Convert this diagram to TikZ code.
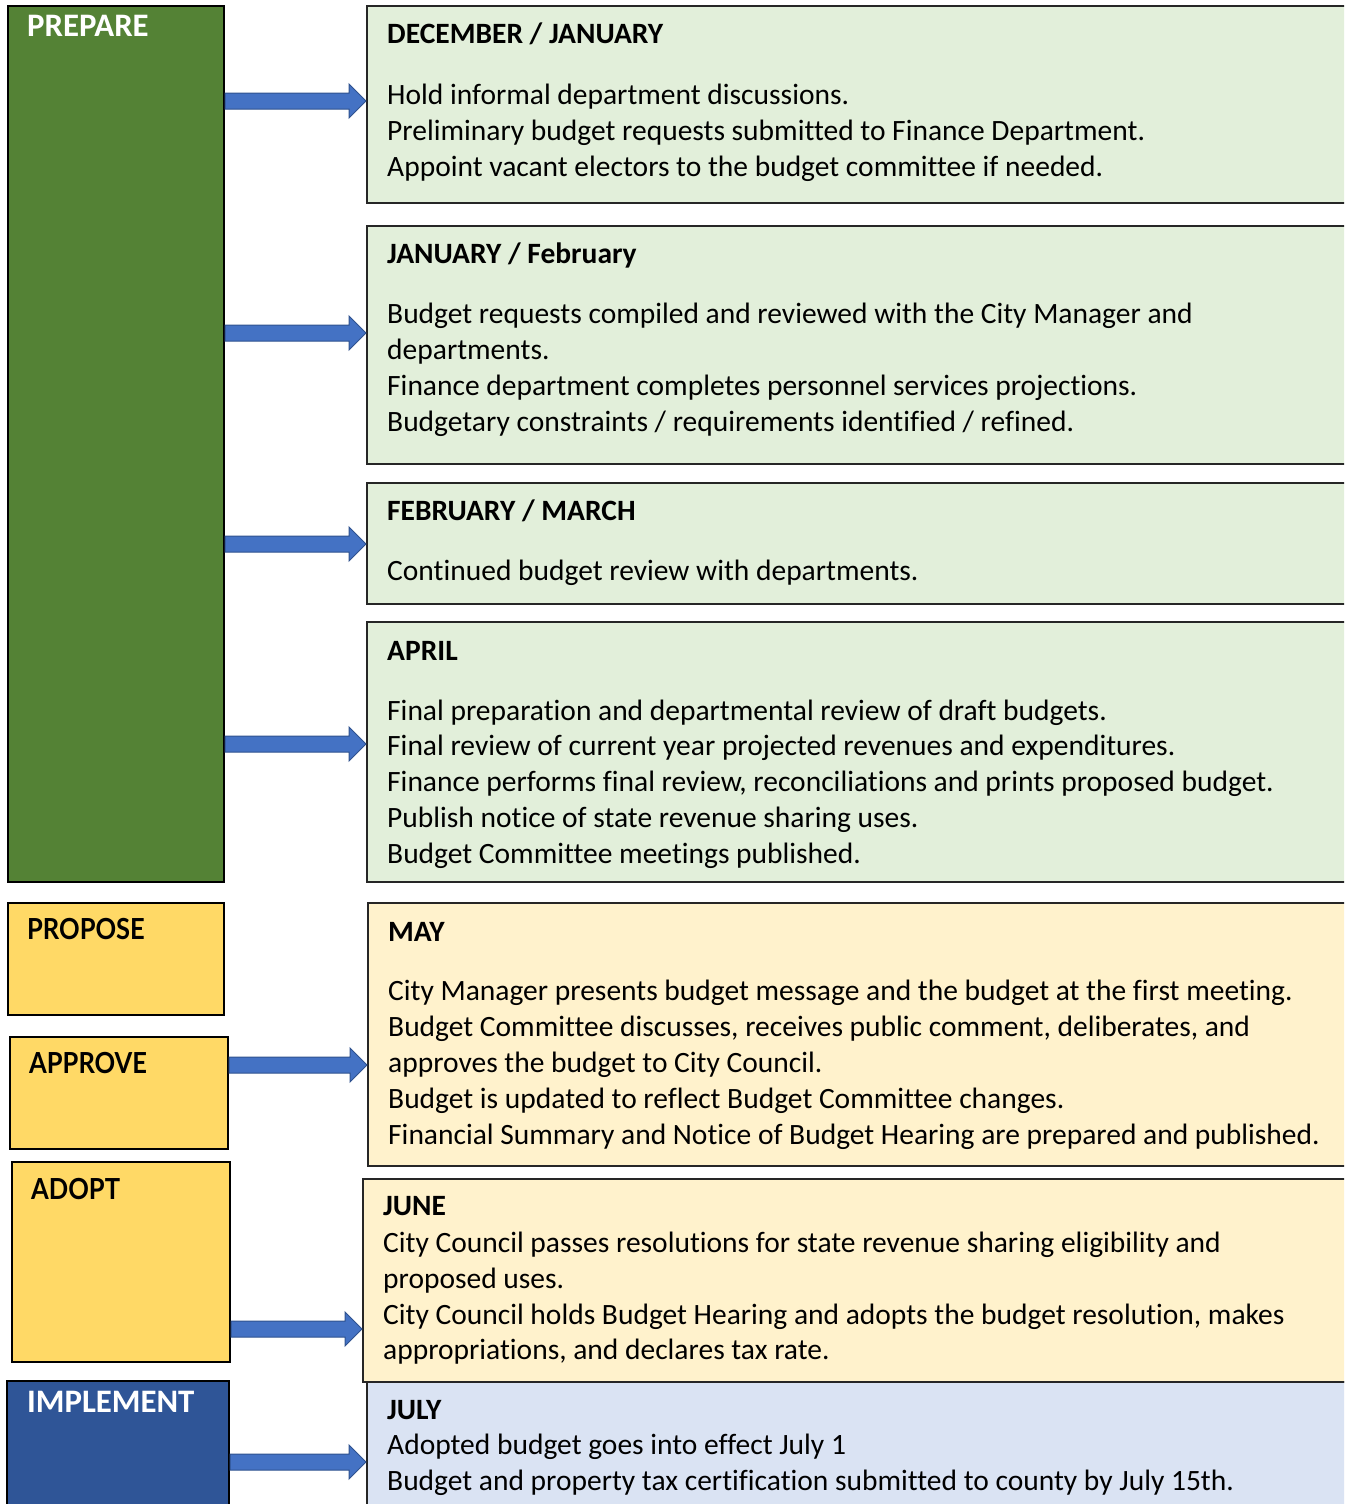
\documentclass[tikz,border=0pt]{standalone}
\usepackage{fontspec}
\setmainfont{Carlito}[Ligatures=NoCommon]
\newfontfamily\labfont{Lato}[FakeStretch=0.88]
\usetikzlibrary{calc}
\definecolor{dgreen}{HTML}{548235}
\definecolor{lgreen}{HTML}{E2EFDA}
\definecolor{dyellow}{HTML}{FFD966}
\definecolor{lyellow}{HTML}{FFF2CC}
\definecolor{dblue}{HTML}{2F5597}
\definecolor{lblue}{HTML}{DAE3F3}
\definecolor{arrfill}{HTML}{4472C4}
\definecolor{arrline}{HTML}{2F528F}
\definecolor{rline}{HTML}{262626}
\tikzset{
  lbox/.style={draw=black, line width=2pt, inner sep=0pt, anchor=north west},
  rbox/.style={draw=rline, line width=2pt, inner sep=0pt, anchor=north west},
  txt/.style={anchor=base west, inner sep=0pt, font=\fontsize{29.5}{34}\selectfont},
  hd/.style={txt, font=\fontsize{29.5}{34}\selectfont\bfseries},
  wlab/.style={anchor=base west, inner sep=0pt, text=white, font=\fontsize{32.8}{36}\selectfont\bfseries},
  klab/.style={anchor=base west, inner sep=0pt, text=black, font=\labfont\fontsize{29}{34}\selectfont\bfseries},
  barr/.style={fill=arrfill, draw=arrline, line width=1pt, line join=miter}
}
\newcommand\blockarr[3]{%
  \draw[barr] let \p1=(#1.east), \p2=(#2.west) in
    (\x1,-#3pt+8pt) -- (\x2-17pt,-#3pt+8pt) -- (\x2-17pt,-#3pt+17pt) -- (\x2,-#3pt)
    -- (\x2-17pt,-#3pt-17pt) -- (\x2-17pt,-#3pt-8pt) -- (\x1,-#3pt-8pt) -- cycle;}
\begin{document}
\begin{tikzpicture}[x=1pt,y=-1pt]
\clip (0,0) rectangle (1344,1504);
% left phase boxes
\node[lbox, fill=dgreen, minimum width=216pt, minimum height=876pt] (prep) at (7,5) {};
\node[lbox, fill=dyellow, minimum width=216pt, minimum height=112pt] (prop) at (7,902) {};
\node[lbox, fill=dyellow, minimum width=218pt, minimum height=112pt] (appr) at (9,1036) {};
\node[lbox, fill=dyellow, minimum width=218pt, minimum height=200pt] (adop) at (11,1161) {};
\node[lbox, fill=dblue, minimum width=222pt, minimum height=140pt] (impl) at (6,1380) {};
% right content boxes
\node[rbox, fill=lgreen, minimum width=1100pt, minimum height=197pt] (b1) at (366,5) {};
\node[rbox, fill=lgreen, minimum width=1100pt, minimum height=238pt] (b2) at (366,225) {};
\node[rbox, fill=lgreen, minimum width=1100pt, minimum height=121pt] (b3) at (366,482) {};
\node[rbox, fill=lgreen, minimum width=1100pt, minimum height=260pt] (b4) at (366,621) {};
\node[rbox, fill=lyellow, minimum width=1100pt, minimum height=263pt] (b5) at (367,902) {};
\node[rbox, fill=lyellow, minimum width=1100pt, minimum height=203pt] (b6) at (362,1178) {};
\node[rbox, fill=lblue, minimum width=1100pt, minimum height=140pt] (b7) at (366,1381) {};
% phase labels
\node[wlab] (lprep) at (27,37) {PREPARE};
\node[klab] (lprop) at (27,939) {PROPOSE};
\node[klab] (lappr) at (29,1073) {APPROVE};
\node[klab] (ladop) at (31,1199) {ADOPT};
\node[wlab] (limpl) at (27,1412) {IMPLEMENT};
% box 1
\node[hd] (h1) at (387,44) {DECEMBER / JANUARY};
\node[txt] (t11) at (387,104) {Hold informal department discussions.};
\node[txt] (t12) at (387,140) {Preliminary budget requests submitted to Finance Department.};
\node[txt] (t13) at (387,176) {Appoint vacant electors to the budget committee if needed.};
% box 2
\node[hd] (h2) at (387,263) {JANUARY / February};
\node[txt] (t21) at (387,323) {Budget requests compiled and reviewed with the City Manager and};
\node[txt] (t22) at (387,359) {departments.};
\node[txt] (t23) at (387,395) {Finance department completes personnel services projections.};
\node[txt] (t24) at (387,431) {Budgetary constraints / requirements identified / refined.};
% box 3
\node[hd] (h3) at (387,520) {FEBRUARY / MARCH};
\node[txt] (t31) at (387,580) {Continued budget review with departments.};
% box 4
\node[hd] (h4) at (387,660) {APRIL};
\node[txt] (t41) at (387,720) {Final preparation and departmental review of draft budgets.};
\node[txt] (t42) at (387,755) {Final review of current year projected revenues and expenditures.};
\node[txt] (t43) at (387,791) {Finance performs final review, reconciliations and prints proposed budget.};
\node[txt] (t44) at (387,827) {Publish notice of state revenue sharing uses.};
\node[txt] (t45) at (387,863) {Budget Committee meetings published.};
% box 5
\node[hd] (h5) at (388,941) {MAY};
\node[txt] (t51) at (388,1000) {City Manager presents budget message and the budget at the first meeting.};
\node[txt] (t52) at (388,1036) {Budget Committee discusses, receives public comment, deliberates, and};
\node[txt] (t53) at (388,1072) {approves the budget to City Council.};
\node[txt] (t54) at (388,1108) {Budget is updated to reflect Budget Committee changes.};
\node[txt] (t55) at (388,1144) {Financial Summary and Notice of Budget Hearing are prepared and published.};
% box 6
\node[hd] (h6) at (383,1215) {JUNE};
\node[txt] (t61) at (383,1252) {City Council passes resolutions for state revenue sharing eligibility and};
\node[txt] (t62) at (383,1288) {proposed uses.};
\node[txt] (t63) at (383,1324) {City Council holds Budget Hearing and adopts the budget resolution, makes};
\node[txt] (t64) at (383,1359) {appropriations, and declares tax rate.};
% box 7
\node[hd] (h7) at (387,1419) {JULY};
\node[txt] (t71) at (387,1454) {Adopted budget goes into effect July 1};
\node[txt] (t72) at (387,1490) {Budget and property tax certification submitted to county by July 15th.};
% arrows
\blockarr{prep}{b1}{101}
\blockarr{prep}{b2}{333}
\blockarr{prep}{b3}{544}
\blockarr{prep}{b4}{744}
\blockarr{appr}{b5}{1065}
\blockarr{adop}{b6}{1329}
\blockarr{impl}{b7}{1462}
\end{tikzpicture}
\end{document}
